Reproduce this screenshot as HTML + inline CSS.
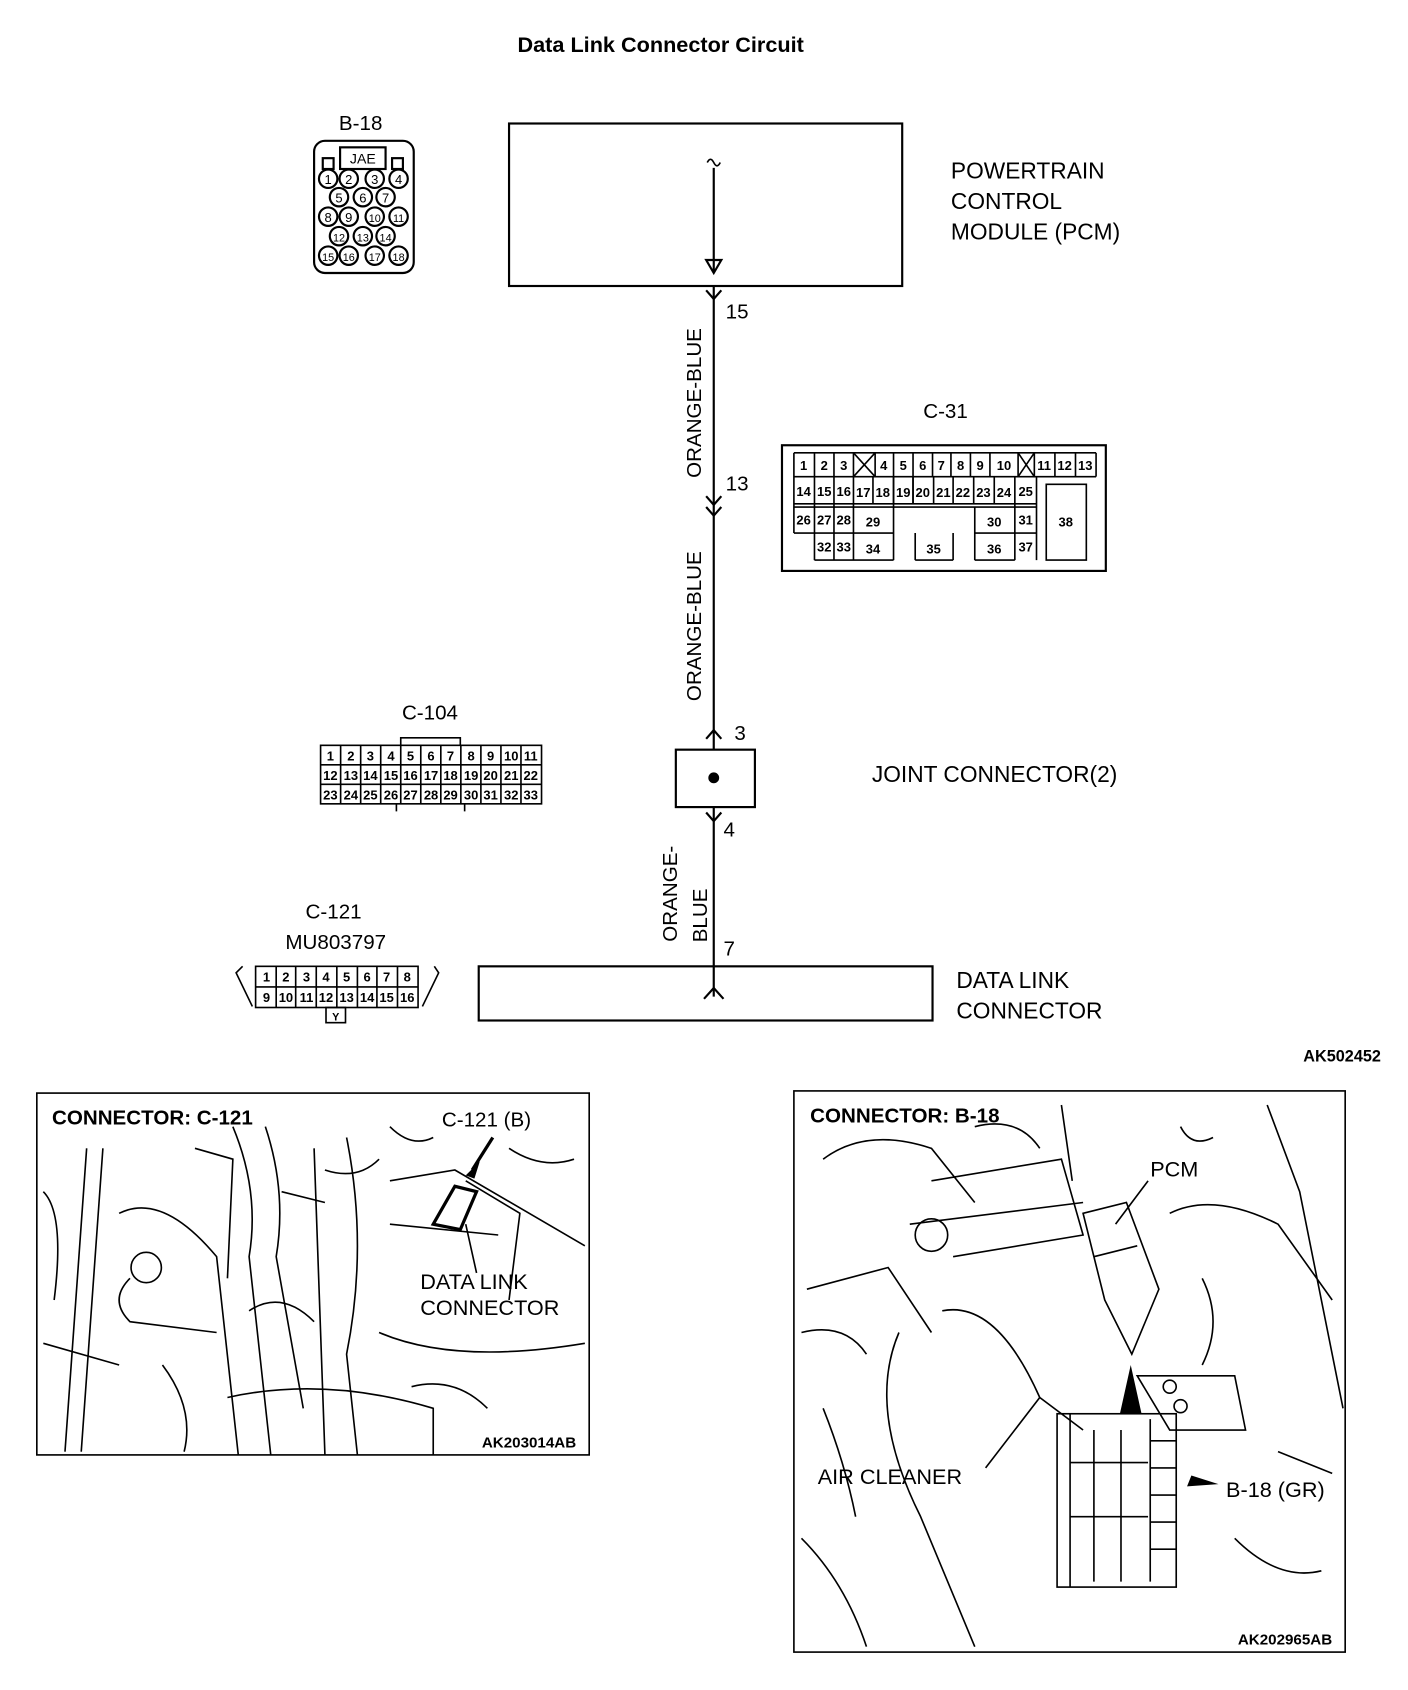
<!DOCTYPE html>
<html><head><meta charset="utf-8"><style>
html,body{margin:0;padding:0;background:#fff}
svg{display:block}
text{font-family:"Liberation Sans",sans-serif;fill:#000}
.b{font-weight:bold}
.s{font-weight:bold;font-size:12px;text-anchor:middle}
</style></head><body>
<svg width="1408" height="1690" viewBox="0 0 1300 1560" preserveAspectRatio="none" xmlns="http://www.w3.org/2000/svg">
<g fill="none" stroke="#000" stroke-width="2">
<rect x="470" y="114" width="363" height="150"/>
<path d="M659 155 V250 M652 240 L659 252 L666 240 Z" />
<path d="M653 150 q3 -6 6 0 q3 6 6 0" stroke-width="1.5"/>
<path d="M659 264 V692 M659 745 V920"/>
<path d="M652 268 L659 276 L666 268"/>
<path d="M652 458 L659 466 L666 458 M652 468 L659 476 L666 468"/>
<path d="M652 682 L659 674 L666 682"/>
<rect x="624" y="692" width="73" height="53"/>
<path d="M652 750 L659 758 L666 750"/>
<path d="M650 922 L659 912 L668 922"/>
<rect x="442" y="892" width="419" height="50"/>
<rect x="34" y="1009" width="510" height="334" stroke-width="1.5"/>
<rect x="733" y="1007" width="509" height="518" stroke-width="1.5"/>
</g>
<circle cx="659" cy="718" r="5" fill="#000"/>

<text x="610" y="48" class="b" font-size="20" text-anchor="middle">Data Link Connector Circuit</text>
<g font-size="21">
<text x="878" y="165">POWERTRAIN</text>
<text x="878" y="193">CONTROL</text>
<text x="878" y="221">MODULE (PCM)</text>
<text x="805" y="722">JOINT CONNECTOR(2)</text>
<text x="883" y="912">DATA LINK</text>
<text x="883" y="940">CONNECTOR</text>
</g>
<g font-size="19">
<text x="670" y="294">15</text>
<text x="670" y="453">13</text>
<text x="678" y="683">3</text>
<text x="668" y="772">4</text>
<text x="668" y="882">7</text>
<text transform="translate(647,372) rotate(-90)" text-anchor="middle">ORANGE-BLUE</text>
<text transform="translate(647,578) rotate(-90)" text-anchor="middle">ORANGE-BLUE</text>
<text transform="translate(625,825) rotate(-90)" text-anchor="middle">ORANGE-</text>
<text transform="translate(653,845) rotate(-90)" text-anchor="middle">BLUE</text>
<text x="333" y="120" text-anchor="middle">B-18</text>
<text x="873" y="386" text-anchor="middle">C-31</text>
<text x="397" y="664" text-anchor="middle">C-104</text>
<text x="308" y="848" text-anchor="middle">C-121</text>
<text x="310" y="876" text-anchor="middle">MU803797</text>
</g>
<text x="1275" y="980" class="b" font-size="15" text-anchor="end">AK502452</text>

<g fill="none" stroke="#000" stroke-width="2">
<rect x="290" y="130" width="92" height="122" rx="10"/>
<rect x="314" y="136" width="42" height="20"/>
<rect x="298" y="146" width="10" height="10"/><rect x="362" y="146" width="10" height="10"/>
</g>
<text x="335" y="151" font-size="13" text-anchor="middle">JAE</text>
<g fill="#fff" stroke="#000" stroke-width="2">
<circle cx="303" cy="165" r="8.5"/><circle cx="322" cy="165" r="8.5"/><circle cx="346" cy="165" r="8.5"/><circle cx="368" cy="165" r="8.5"/>
<circle cx="313" cy="182" r="8.5"/><circle cx="335" cy="182" r="8.5"/><circle cx="356" cy="182" r="8.5"/>
<circle cx="303" cy="200" r="8.5"/><circle cx="322" cy="200" r="8.5"/><circle cx="346" cy="200" r="8.5"/><circle cx="368" cy="200" r="8.5"/>
<circle cx="313" cy="218" r="8.5"/><circle cx="335" cy="218" r="8.5"/><circle cx="356" cy="218" r="8.5"/>
<circle cx="303" cy="236" r="8.5"/><circle cx="322" cy="236" r="8.5"/><circle cx="346" cy="236" r="8.5"/><circle cx="368" cy="236" r="8.5"/>
</g>
<g font-size="12" text-anchor="middle">
<text x="303" y="170">1</text><text x="322" y="170">2</text><text x="346" y="170">3</text><text x="368" y="170">4</text>
<text x="313" y="187">5</text><text x="335" y="187">6</text><text x="356" y="187">7</text>
<text x="303" y="205">8</text><text x="322" y="205">9</text><text x="346" y="205" font-size="10">10</text><text x="368" y="205" font-size="10">11</text>
<text x="313" y="223" font-size="10">12</text><text x="335" y="223" font-size="10">13</text><text x="356" y="223" font-size="10">14</text>
<text x="303" y="241" font-size="10">15</text><text x="322" y="241" font-size="10">16</text><text x="346" y="241" font-size="10">17</text><text x="368" y="241" font-size="10">18</text>
</g>

<g fill="none" stroke="#000" stroke-width="1.5">
<rect x="722" y="411" width="299" height="116" stroke-width="2"/>
<path d="M733 418 H1012 M733 440 H1012 M733 465 H957 M733 468 H957 M733 492 H788 M788 492 H825 M900 492 H957 M752 517 H788 M788 517 H825 M845 517 H880 M900 517 H937"/>
<path d="M733 418 V492 M752 418 V517 M770 418 V517 M788 418 V517 M808 418 V440 M825 418 V517 M843 418 V465 M861 418 V440 M878 418 V440 M896 418 V440 M914 418 V440 M940 418 V440 M955 418 V440 M974 418 V440 M993 418 V440 M1012 418 V440"/>
<path d="M806 440 V465 M825 440 V465 M843 440 V465 M862 440 V465 M880 440 V465 M899 440 V465 M918 440 V465 M937 440 V517 M957 440 V517 M900 468 V517 M845 492 V517 M880 492 V517"/>
<path d="M788 418 L808 440 M808 418 L788 440 M940 418 L955 440 M955 418 L940 440"/>
<path d="M966 447 H1003 V517 H966 Z"/>
</g>
<g>
<text class="s" x="742" y="434">1</text><text class="s" x="761" y="434">2</text><text class="s" x="779" y="434">3</text>
<text class="s" x="816" y="434">4</text><text class="s" x="834" y="434">5</text><text class="s" x="852" y="434">6</text><text class="s" x="869" y="434">7</text><text class="s" x="887" y="434">8</text><text class="s" x="905" y="434">9</text><text class="s" x="927" y="434">10</text>
<text class="s" x="964" y="434">11</text><text class="s" x="983" y="434">12</text><text class="s" x="1002" y="434">13</text>
<text class="s" x="742" y="458">14</text><text class="s" x="761" y="458">15</text><text class="s" x="779" y="458">16</text>
<text class="s" x="797" y="459">17</text><text class="s" x="815" y="459">18</text><text class="s" x="834" y="459">19</text><text class="s" x="852" y="459">20</text><text class="s" x="871" y="459">21</text><text class="s" x="889" y="459">22</text><text class="s" x="908" y="459">23</text><text class="s" x="927" y="459">24</text><text class="s" x="947" y="458">25</text>
<text class="s" x="742" y="484">26</text><text class="s" x="761" y="484">27</text><text class="s" x="779" y="484">28</text><text class="s" x="806" y="486">29</text><text class="s" x="918" y="486">30</text><text class="s" x="947" y="484">31</text>
<text class="s" x="761" y="509">32</text><text class="s" x="779" y="509">33</text><text class="s" x="806" y="511">34</text><text class="s" x="862" y="511">35</text><text class="s" x="918" y="511">36</text><text class="s" x="947" y="509">37</text>
<text class="s" x="984" y="486">38</text>
</g>

<g fill="none" stroke="#000" stroke-width="1.5">
<rect x="296" y="688" width="204" height="54"/>
<path d="M296 706 H500 M296 724 H500"/>
<path d="M314.5 688 V742 M333 688 V742 M351.5 688 V742 M370 688 V742 M388.5 688 V742 M407 688 V742 M425.5 688 V742 M444 688 V742 M462.5 688 V742 M481 688 V742"/>
<path d="M370 688 V681 H425 V688 M366 742 V749 M429 742 V749"/>
</g>
<g font-size="12" font-weight="bold" text-anchor="middle">
<text x="305" y="702">1</text><text x="324" y="702">2</text><text x="342" y="702">3</text><text x="361" y="702">4</text><text x="379" y="702">5</text><text x="398" y="702">6</text><text x="416" y="702">7</text><text x="435" y="702">8</text><text x="453" y="702">9</text><text x="472" y="702">10</text><text x="490" y="702">11</text>
<text x="305" y="720">12</text><text x="324" y="720">13</text><text x="342" y="720">14</text><text x="361" y="720">15</text><text x="379" y="720">16</text><text x="398" y="720">17</text><text x="416" y="720">18</text><text x="435" y="720">19</text><text x="453" y="720">20</text><text x="472" y="720">21</text><text x="490" y="720">22</text>
<text x="305" y="738">23</text><text x="324" y="738">24</text><text x="342" y="738">25</text><text x="361" y="738">26</text><text x="379" y="738">27</text><text x="398" y="738">28</text><text x="416" y="738">29</text><text x="435" y="738">30</text><text x="453" y="738">31</text><text x="472" y="738">32</text><text x="490" y="738">33</text>
</g>

<g fill="none" stroke="#000" stroke-width="1.5">
<path d="M224 892 L218 898 L233 929 M401 892 L405 898 L390 929"/>
<rect x="236" y="892" width="150" height="38"/>
<path d="M236 911 H386 M255 892 V930 M273 892 V930 M292 892 V930 M311 892 V930 M330 892 V930 M348 892 V930 M367 892 V930"/>
<rect x="301" y="930" width="18" height="14"/>
</g>
<g font-size="12" font-weight="bold" text-anchor="middle">
<text x="246" y="906">1</text><text x="264" y="906">2</text><text x="283" y="906">3</text><text x="301" y="906">4</text><text x="320" y="906">5</text><text x="339" y="906">6</text><text x="357" y="906">7</text><text x="376" y="906">8</text>
<text x="246" y="925">9</text><text x="264" y="925">10</text><text x="283" y="925">11</text><text x="301" y="925">12</text><text x="320" y="925">13</text><text x="339" y="925">14</text><text x="357" y="925">15</text><text x="376" y="925">16</text>
<text x="310" y="942" font-size="10">Y</text>
</g>

<!-- panel 1 sketch -->
<g fill="none" stroke="#000" stroke-width="1.5">
<path d="M80 1060 L60 1340 M95 1060 L75 1340 M110 1120 Q150 1100 200 1160 L220 1343 M120 1180 Q100 1200 120 1220 L200 1230"/>
<circle cx="135" cy="1170" r="14"/>
<path d="M215 1040 Q240 1100 230 1160 L250 1343 M245 1040 Q265 1100 255 1160 L280 1300 M290 1060 L300 1343 M320 1050 Q340 1150 320 1250 L330 1343"/>
<path d="M180 1060 L215 1070 L210 1180 M360 1090 L420 1080 L540 1150 M430 1090 L480 1120 L470 1200 M350 1230 Q420 1260 540 1240 M210 1290 Q300 1270 400 1300 L400 1343 M360 1130 L460 1140"/>
<path d="M40 1100 Q60 1120 50 1200 M230 1210 Q260 1190 290 1220 M360 1040 Q380 1060 400 1050 M300 1080 Q330 1090 350 1070 M470 1060 Q500 1080 530 1070 M380 1280 Q420 1270 450 1300 M150 1260 Q180 1300 170 1340 M260 1100 L300 1110 M40 1240 L110 1260"/>
<path d="M400 1130 L420 1095 L440 1100 L425 1135 Z" stroke-width="3"/>
<path d="M455 1050 L436 1080" stroke-width="3"/>
<path d="M430 1130 L440 1175"/>
</g>
<path d="M430 1085 L443 1072 L438 1088 Z" fill="#000"/>
<text x="48" y="1038" class="b" font-size="19">CONNECTOR: C-121</text>
<text x="408" y="1040" font-size="19">C-121 (B)</text>
<text x="388" y="1190" font-size="20">DATA LINK</text>
<text x="388" y="1214" font-size="20">CONNECTOR</text>
<text x="532" y="1336" class="b" font-size="14" text-anchor="end">AK203014AB</text>

<!-- panel 2 sketch -->
<g fill="none" stroke="#000" stroke-width="1.5">
<path d="M760 1070 Q800 1040 860 1060 L900 1110 M860 1090 L980 1070 L1000 1140 L880 1160 M840 1130 L1000 1110 M745 1190 L820 1170 L860 1230 M830 1230 Q800 1300 850 1400 L900 1520 M870 1210 Q920 1200 960 1290 L1000 1320"/>
<circle cx="860" cy="1140" r="15"/>
<path d="M1000 1120 L1040 1110 L1070 1190 L1045 1250 L1020 1200 Z M1010 1160 L1050 1150 M1080 1120 Q1120 1100 1180 1130 L1230 1200 M1170 1020 L1200 1100 L1240 1300 M1050 1270 L1140 1270 L1150 1320 L1080 1320 Z M760 1300 Q780 1350 790 1400 M980 1020 L990 1090"/>
<path d="M740 1230 Q780 1220 800 1250 M900 1040 Q940 1030 960 1060 M1110 1180 Q1130 1220 1110 1260 M740 1420 Q780 1460 800 1520 M1140 1420 Q1180 1460 1220 1450 M1180 1340 L1230 1360 M1090 1040 Q1100 1060 1120 1050"/>
<circle cx="1080" cy="1280" r="6"/><circle cx="1090" cy="1298" r="6"/>
<rect x="976" y="1305" width="110" height="160"/>
<path d="M988 1305 V1465 M1062 1330 H1086 M1062 1355 H1086 M1062 1380 H1086 M1062 1405 H1086 M1062 1430 H1086 M1062 1310 V1460 M1010 1320 V1460 M1035 1320 V1460 M988 1350 H1060 M988 1400 H1060"/>
<path d="M1060 1090 L1030 1130 M960 1290 L910 1355"/>
</g>
<path d="M1034 1305 L1044 1260 L1054 1305 Z M1100 1362 L1125 1370 L1096 1372 Z" fill="#000"/>
<text x="748" y="1036" class="b" font-size="19">CONNECTOR: B-18</text>
<text x="1062" y="1086" font-size="20">PCM</text>
<text x="755" y="1370" font-size="20">AIR CLEANER</text>
<text x="1132" y="1382" font-size="20">B-18 (GR)</text>
<text x="1230" y="1518" class="b" font-size="14" text-anchor="end">AK202965AB</text>
</svg>
</body></html>
